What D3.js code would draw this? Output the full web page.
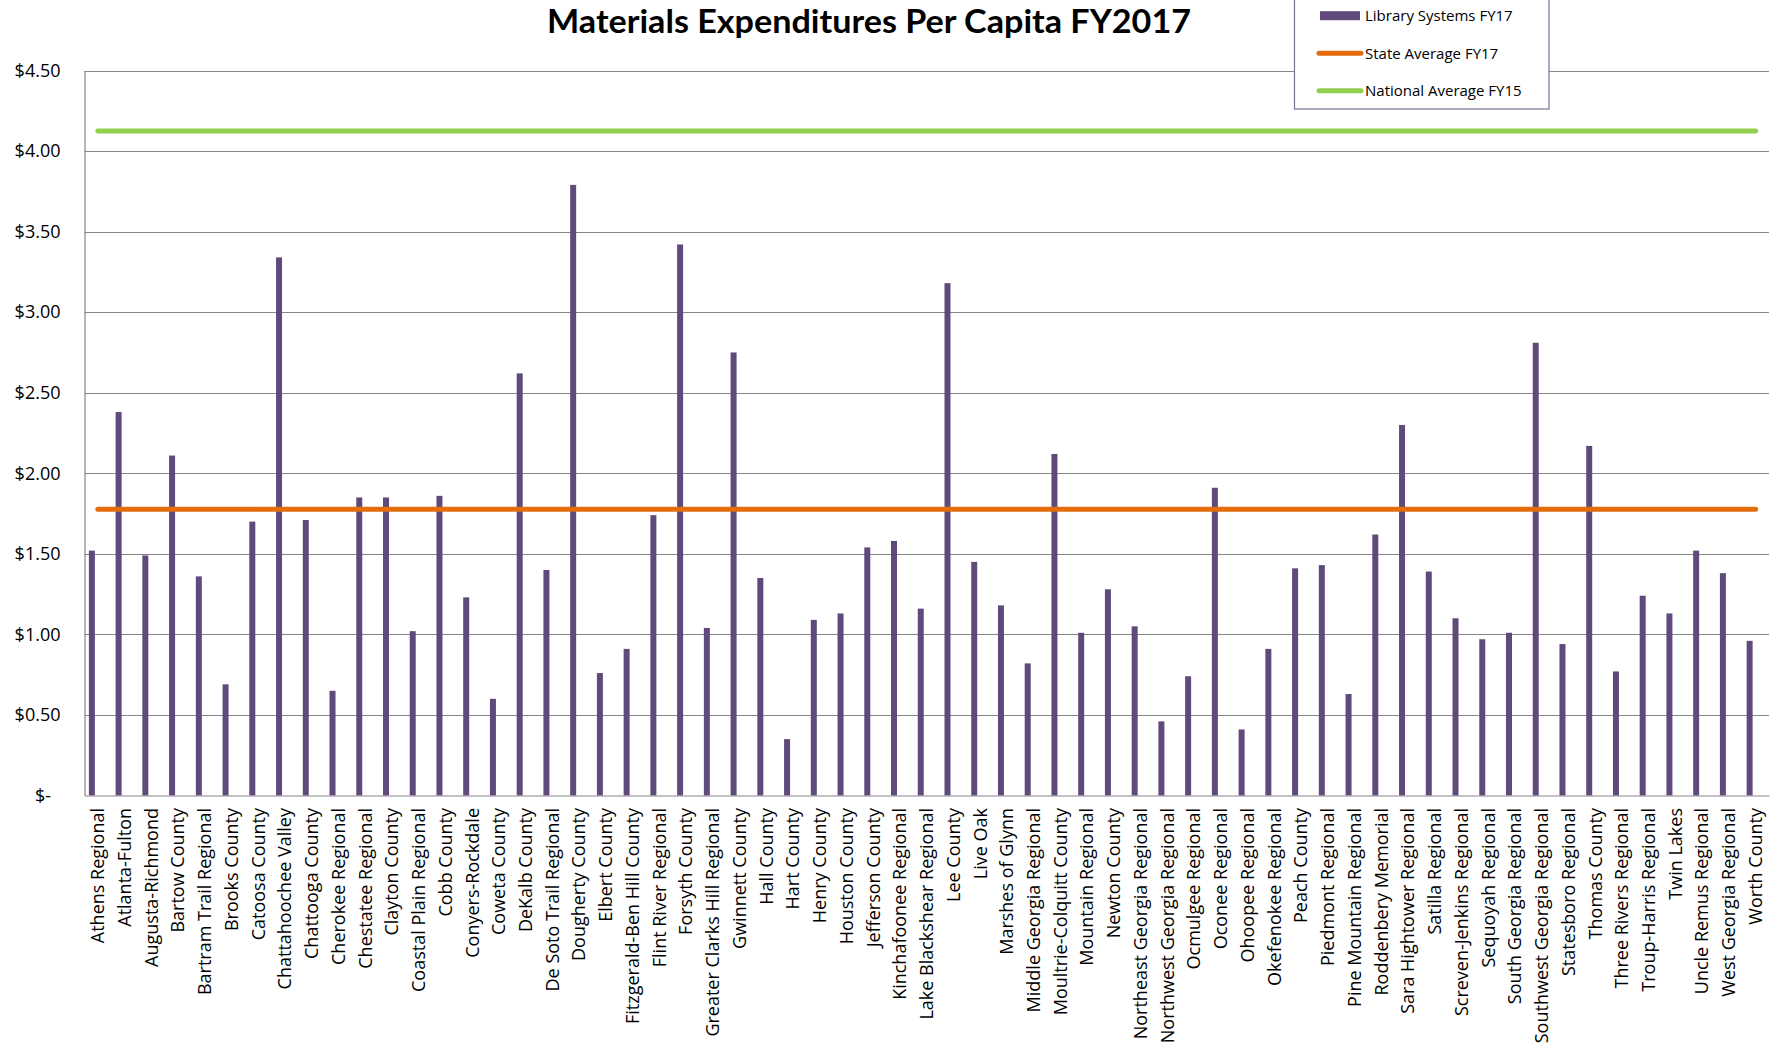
<!DOCTYPE html>
<html>
<head>
<meta charset="utf-8">
<script src="https://cdn.jsdelivr.net/npm/d3@7"></script>
<style>
  html, body { margin: 0; padding: 0; background: #ffffff; }
  svg { display: block; }
</style>
</head>
<body>
<svg id="chart" width="1775" height="1055"></svg>
<script>
const categories = [
  "Athens Regional","Atlanta-Fulton","Augusta-Richmond","Bartow County","Bartram Trail Regional",
  "Brooks County","Catoosa County","Chattahoochee Valley","Chattooga County","Cherokee Regional",
  "Chestatee Regional","Clayton County","Coastal Plain Regional","Cobb County","Conyers-Rockdale",
  "Coweta County","DeKalb County","De Soto Trail Regional","Dougherty County","Elbert County",
  "Fitzgerald-Ben Hill County","Flint River Regional","Forsyth County","Greater Clarks Hill Regional","Gwinnett County",
  "Hall County","Hart County","Henry County","Houston County","Jefferson County",
  "Kinchafoonee Regional","Lake Blackshear Regional","Lee County","Live Oak","Marshes of Glynn",
  "Middle Georgia Regional","Moultrie-Colquitt County","Mountain Regional","Newton County","Northeast Georgia Regional",
  "Northwest Georgia Regional","Ocmulgee Regional","Oconee Regional","Ohoopee Regional","Okefenokee Regional",
  "Peach County","Piedmont Regional","Pine Mountain Regional","Roddenbery Memorial","Sara Hightower Regional",
  "Satilla Regional","Screven-Jenkins Regional","Sequoyah Regional","South Georgia Regional","Southwest Georgia Regional",
  "Statesboro Regional","Thomas County","Three Rivers Regional","Troup-Harris Regional","Twin Lakes",
  "Uncle Remus Regional","West Georgia Regional","Worth County"
];

const libraryValues = [
  1.52, 2.38, 1.49, 2.11, 1.36,
  0.69, 1.70, 3.34, 1.71, 0.65,
  1.85, 1.85, 1.02, 1.86, 1.23,
  0.60, 2.62, 1.40, 3.79, 0.76,
  0.91, 1.74, 3.42, 1.04, 2.75,
  1.35, 0.35, 1.09, 1.13, 1.54,
  1.58, 1.16, 3.18, 1.45, 1.18,
  0.82, 2.12, 1.01, 1.28, 1.05,
  0.46, 0.74, 1.91, 0.41, 0.91,
  1.41, 1.43, 0.63, 1.62, 2.30,
  1.39, 1.10, 0.97, 1.01, 2.81,
  0.94, 2.17, 0.77, 1.24, 1.13,
  1.52, 1.38, 0.96
];

const stateAverage = 1.776;
const nationalAverage = 4.125;

const yTicks = [0, 0.5, 1.0, 1.5, 2.0, 2.5, 3.0, 3.5, 4.0, 4.5];

const seriesNames = ["Library Systems FY17", "State Average FY17", "National Average FY15"];

const titleText = "Materials Expenditures Per Capita FY2017";

// ---------------------------------------------------------------
const svg = d3.select("#chart");
const plotLeft = 84.5, plotRight = 1769, plotTop = 70.5, plotBottom = 795.5;

const colors = { bar: "#604a7b", state: "#e46c0a", national: "#92d050", grid: "#868686" };

const x = d3.scaleBand().domain(categories).range([plotLeft, plotRight]).paddingInner(0).paddingOuter(0);
const slot = d3.scaleBand().domain(["lib", "s2", "s3"]).range([0, x.bandwidth()]).paddingInner(0).paddingOuter(0.73);
const y = d3.scaleLinear().domain([0, 4.5]).range([plotBottom, plotTop]);

// gridlines
svg.append("g").selectAll("line").data(yTicks.filter(d => d > 0)).join("line")
  .attr("x1", plotLeft).attr("x2", plotRight)
  .attr("y1", d => Math.round(y(d)) + 0.5).attr("y2", d => Math.round(y(d)) + 0.5)
  .attr("stroke", colors.grid).attr("stroke-width", 1.2);

// y axis
const yAxis = d3.axisLeft(y).tickValues(yTicks).tickSize(0).tickPadding(24)
  .tickFormat(d => d === 0 ? "$-" : "$" + d3.format(".2f")(d));
const gy = svg.append("g").attr("transform", `translate(${plotLeft},0)`).call(yAxis);
gy.select(".domain").attr("stroke", colors.grid).attr("stroke-width", 1.2);
gy.selectAll("text")
  .attr("font-family", "'Open Sans', sans-serif").attr("font-size", 18).attr("fill", "#000");
gy.selectAll(".tick").filter(d => d === 0).select("text").attr("dx", -9.5);

// bars
svg.append("g").selectAll("rect").data(categories).join("rect")
  .attr("x", (c) => x(c) + slot("lib"))
  .attr("width", slot.bandwidth())
  .attr("y", (c, i) => y(libraryValues[i]))
  .attr("height", (c, i) => y(0) - y(libraryValues[i]))
  .attr("fill", colors.bar);

// x axis
const xAxis = d3.axisBottom(x).tickSize(0).tickPadding(0);
const gx = svg.append("g").attr("transform", `translate(0,${plotBottom})`).call(xAxis);
gx.select(".domain").attr("stroke", colors.grid).attr("stroke-width", 1.2);
gx.selectAll("text")
  .attr("font-family", "'Open Sans', sans-serif").attr("font-size", 18).attr("fill", "#000")
  .attr("transform", "rotate(-90)")
  .attr("text-anchor", "end")
  .attr("x", -12.5).attr("y", 0).attr("dy", "0.35em");

// average lines
const firstC = categories[0], lastC = categories[categories.length - 1];
const line = d3.line().x(d => x(d[0]) + x.bandwidth() / 2).y(d => y(d[1]));
svg.append("path").datum([[firstC, stateAverage], [lastC, stateAverage]])
  .attr("d", line).attr("stroke", colors.state).attr("stroke-width", 5)
  .attr("stroke-linecap", "round").attr("fill", "none");
svg.append("path").datum([[firstC, nationalAverage], [lastC, nationalAverage]])
  .attr("d", line).attr("stroke", colors.national).attr("stroke-width", 5)
  .attr("stroke-linecap", "round").attr("fill", "none");

// title
svg.append("text").attr("x", 869).attr("y", 33).attr("text-anchor", "middle")
  .attr("font-family", "Lato, 'Open Sans', sans-serif").attr("font-weight", "bold").attr("font-size", 33)
  .attr("textLength", 644).attr("lengthAdjust", "spacingAndGlyphs")
  .attr("fill", "#000").text(titleText);

// legend
const lg = svg.append("g");
lg.append("rect").attr("x", 1294.5).attr("y", -3).attr("width", 254.5).attr("height", 112)
  .attr("fill", "#fff").attr("stroke", "#7f6f9a").attr("stroke-width", 1.2);
const legendY = [15.7, 53.3, 90.7];
lg.append("rect").attr("x", 1320).attr("y", legendY[0] - 4.5).attr("width", 40).attr("height", 9).attr("fill", colors.bar);
lg.append("line").attr("x1", 1319).attr("x2", 1361).attr("y1", legendY[1]).attr("y2", legendY[1])
  .attr("stroke", colors.state).attr("stroke-width", 5).attr("stroke-linecap", "round");
lg.append("line").attr("x1", 1319).attr("x2", 1361).attr("y1", legendY[2]).attr("y2", legendY[2])
  .attr("stroke", colors.national).attr("stroke-width", 5).attr("stroke-linecap", "round");
lg.selectAll("text.leg").data(seriesNames).join("text").attr("class", "leg")
  .attr("x", 1365).attr("y", (d, i) => legendY[i]).attr("dy", "0.35em")
  .attr("font-family", "'Open Sans', sans-serif").attr("font-size", 15).attr("fill", "#000")
  .text(d => d);
</script>
</body>
</html>
